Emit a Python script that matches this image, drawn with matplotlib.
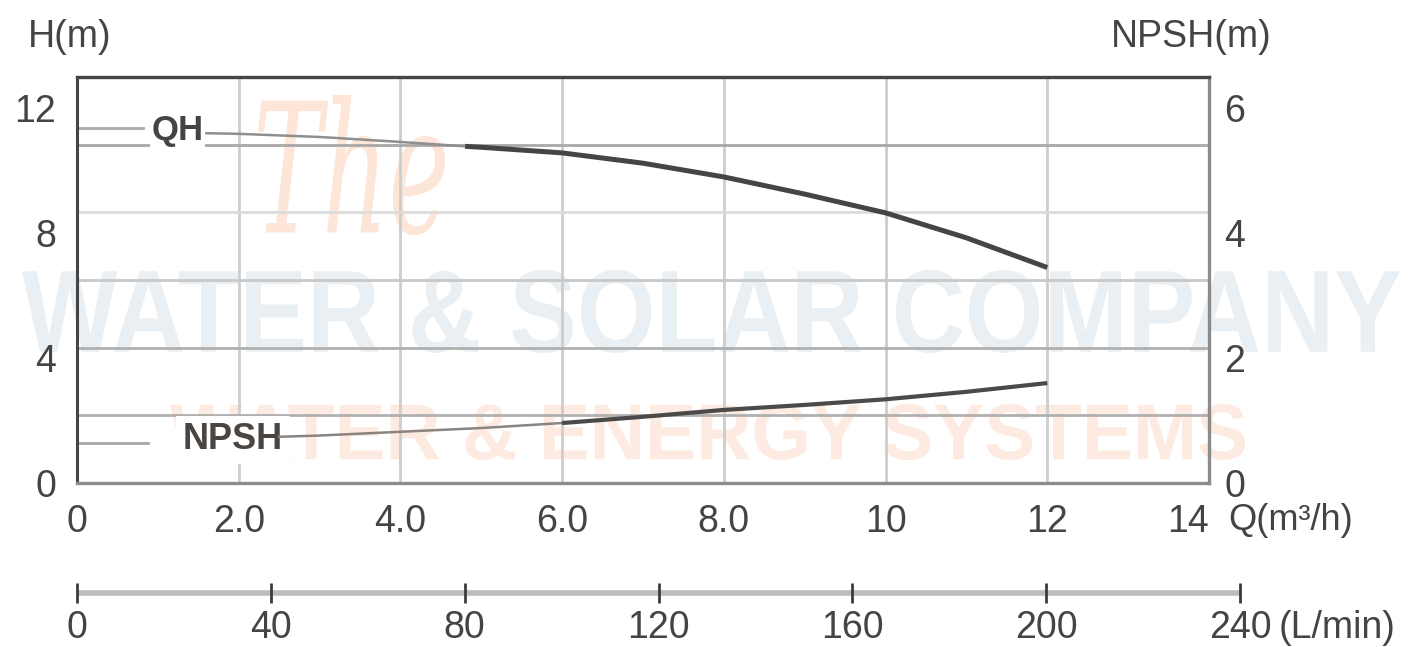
import matplotlib
matplotlib.use("Agg")
import matplotlib.pyplot as plt
from matplotlib.textpath import TextPath
from matplotlib.patches import PathPatch
from matplotlib.font_manager import FontProperties
from matplotlib.transforms import Affine2D, IdentityTransform

# pump curve readings
q_head = [1.6, 2.0, 3.0, 4.0, 4.8, 5.0, 6.0, 7.0, 8.0, 9.0, 10.0, 11.0, 12.0]
head = [11.2, 11.18, 11.08, 10.92, 10.78, 10.75, 10.57, 10.24, 9.8, 9.25, 8.65, 7.85, 6.9]
q_npsh = [2.5, 3.0, 4.0, 5.0, 6.0, 7.0, 8.0, 9.0, 10.0, 11.0, 12.0]
npsh = [0.74, 0.76, 0.82, 0.88, 0.96, 1.06, 1.17, 1.25, 1.34, 1.46, 1.6]

q_ticks = [0, 2, 4, 6, 8, 10, 12, 14]
q_tick_labels = ["0", "2.0", "4.0", "6.0", "8.0", "10", "12", "14"]
h_ticks = [0, 4, 8, 12]
npsh_ticks = [0, 2, 4, 6]
lmin_ticks = [0, 40, 80, 120, 160, 200, 240]

W, H = 1428, 647
FONT = "Liberation Sans"
TXT = "#444444"
FS = 27
plt.rcParams["font.family"] = [FONT, "DejaVu Sans"]

fig = plt.figure(figsize=(W / 100, H / 100), dpi=100)
fig.patch.set_facecolor("white")


def px_box(x0, y0, x1, y1):
    # pixel box (top-left origin) -> figure fraction rect
    return [x0 / W, 1 - y1 / H, (x1 - x0) / W, (y1 - y0) / H]


def stamp(text, x0, y0, x1, y1, color, **font):
    # text stretched to fill a pixel box, drawn behind everything
    tp = TextPath((0, 0), text, size=100, prop=FontProperties(**font))
    ext = tp.get_extents()
    sx = (x1 - x0) / ext.width
    sy = (y1 - y0) / ext.height
    tr = (Affine2D().translate(-ext.x0, -ext.y0).scale(sx, sy)
          .translate(x0, H - y1))
    patch = PathPatch(tr.transform_path(tp), facecolor=color, edgecolor="none",
                      transform=IdentityTransform(), zorder=-5)
    fig.add_artist(patch)


stamp("WATER & SOLAR COMPANY", 22, 270, 1400, 353, "#e9eff2",
      family=FONT, weight="bold")
stamp("WATER & ENERGY SYSTEMS", 170, 404, 1245, 460, "#fdebe1",
      family=FONT, weight="bold")
stamp("The", 258, 95, 445, 235, "#fde5d7", family="DejaVu Serif", style="italic")

ax = fig.add_axes(px_box(77, 77, 1209, 483))
ax.set_facecolor("none")
ax.set_xlim(0, 14)
ax.set_ylim(0, 13)

# grid: every 2 m3/h across, six even rows up
for q in q_ticks[1:-1]:
    ax.axvline(q, color="#cdcdcd", lw=2, zorder=1)
row_colors = ["#b0b0b0", "#b0b0b0", "#c8c8c8", "#dcdcdc", "#a8a8a8"]
for k, c in zip(range(1, 6), row_colors):
    ax.axhline(13 * k / 6, color=c, lw=2, zorder=1)

# head curve: faint start, heavy main section
split = q_head.index(4.8)
ax.plot(q_head[:split + 1], head[:split + 1], color="#8f8f8f", lw=1.8, zorder=3)
ax.plot(q_head[split:], head[split:], color="#454545", lw=3.6, zorder=3,
        solid_capstyle="butt")

# label leaders
ax.plot([0, 0.82], [11.36, 11.36], color="#a8a8a8", lw=2, zorder=2)
ax.plot([0, 0.88], [1.28, 1.28], color="#a8a8a8", lw=2, zorder=2)
ax.text(1.24, 11.3, "QH", fontsize=25, fontweight="bold", color="#444444",
        ha="center", va="center", zorder=5,
        bbox=dict(facecolor="white", edgecolor="none", pad=1))
ax.text(1.93, 1.38, "NPSH", fontsize=26, fontweight="bold", color="#4a4540",
        ha="center", va="center", zorder=5,
        bbox=dict(facecolor="white", edgecolor="none", pad=5))

ax.set_xticks(q_ticks)
ax.set_xticklabels(q_tick_labels)
ax.get_xticklabels()[-1].set_horizontalalignment("right")
ax.set_yticks(h_ticks)
ax.tick_params(axis="x", length=0, pad=15, labelsize=FS, labelcolor=TXT)
ax.tick_params(axis="y", length=0, pad=15, labelsize=FS, labelcolor=TXT)
for side, c, w in [("top", "#454545", 2.4), ("left", "#454545", 2.2),
                   ("bottom", "#8c8c8c", 2.4), ("right", "#8c8c8c", 2.4)]:
    ax.spines[side].set_color(c)
    ax.spines[side].set_linewidth(w)

ax2 = ax.twinx()
ax2.set_ylim(0, 6.5)
ax2.set_yticks(npsh_ticks)
ax2.tick_params(axis="y", length=0, pad=11, labelsize=FS, labelcolor=TXT)
for s in ax2.spines.values():
    s.set_visible(False)

split_n = q_npsh.index(6.0)
ax2.plot(q_npsh[:split_n + 1], npsh[:split_n + 1], color="#8a8480", lw=1.8, zorder=3)
ax2.plot(q_npsh[split_n:], npsh[split_n:], color="#4a4a4a", lw=3.0, zorder=3,
         solid_capstyle="butt")

fig.text(28 / W, 1 - 37 / H, "H(m)", fontsize=FS, color=TXT, va="center")
fig.text(1111 / W, 1 - 37 / H, "NPSH(m)", fontsize=FS, color=TXT, va="center")
fig.text(1228 / W, 1 - 521 / H, "Q(m³/h)", fontsize=26, color=TXT, va="center")

# flow in L/min, on the same scale (200 L/min = 12 m3/h)
ax3 = fig.add_axes(px_box(77, 583, 1240, 603))
ax3.set_xlim(0, 240)
ax3.set_ylim(-1, 1)
ax3.axis("off")
ax3.plot([lmin_ticks[0], lmin_ticks[-1]], [0, 0], color="#bdbdbd", lw=4,
         solid_capstyle="butt", clip_on=False)
ax3.vlines(lmin_ticks, -1, 1, color="#3c3c3c", lw=2, clip_on=False)
for v in lmin_ticks:
    ax3.text(v, -1.7, str(v), fontsize=FS, color=TXT, ha="center",
             va="top", clip_on=False)
ax3.text(248, -1.7, "(L/min)", fontsize=FS, color=TXT, ha="left",
         va="top", clip_on=False)

fig.savefig("out.png", dpi=100)
